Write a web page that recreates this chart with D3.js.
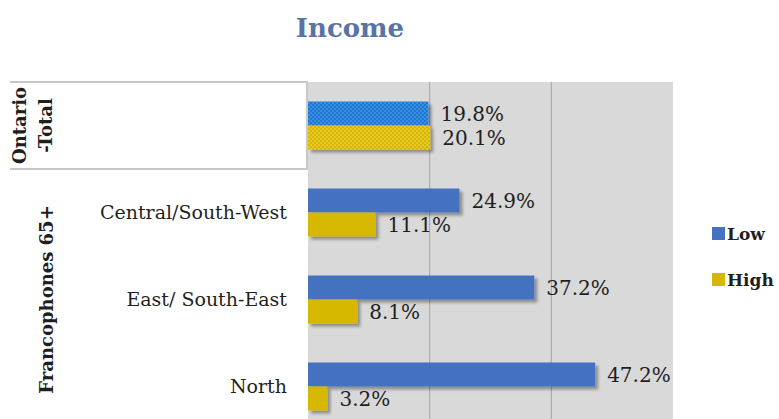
<!DOCTYPE html>
<html>
<head>
<meta charset="utf-8">
<script src="https://cdn.jsdelivr.net/npm/d3@7"></script>
<style>
  html, body { margin: 0; padding: 0; background: #fff; overflow: hidden; }
  svg { display: block; font-family: "DejaVu Serif", "Liberation Serif", serif; }
</style>
</head>
<body>
<div id="chart"></div>
<script>
// chart values
const categories = ["Ontario -Total", "Central/South-West", "East/ South-East", "North"];
const rowLabels = ["", "Central/South-West", "East/ South-East", "North"];
const series = ["Low", "High"];
const lowValues = [19.8, 24.9, 37.2, 47.2];
const highValues = [20.1, 11.1, 8.1, 3.2];
const xTicks = [20, 40];
const groupNames = [["Ontario", "-Total"], ["Francophones 65+"]];
const groupRows = [["Ontario -Total"], ["Central/South-West", "East/ South-East", "North"]];

const width = 779, height = 419;
const plot = { left: 308, right: 673, top: 82, bottom: 430 };

const svg = d3.select("#chart").append("svg")
  .attr("width", width)
  .attr("height", height);

const defs = svg.append("defs");

const shadow = defs.append("filter").attr("id", "shadow")
  .attr("x", "-10%").attr("y", "-30%").attr("width", "130%").attr("height", "180%");
shadow.append("feDropShadow")
  .attr("dx", 3).attr("dy", 3).attr("stdDeviation", 1.8)
  .attr("flood-color", "#000").attr("flood-opacity", 0.35);

function dotPattern(id, base, dot) {
  const p = defs.append("pattern").attr("id", id)
    .attr("width", 4).attr("height", 4).attr("patternUnits", "userSpaceOnUse");
  p.append("rect").attr("width", 4).attr("height", 4).attr("fill", base);
  p.append("circle").attr("cx", 1).attr("cy", 1).attr("r", 0.9).attr("fill", dot);
  p.append("circle").attr("cx", 3).attr("cy", 3).attr("r", 0.9).attr("fill", dot);
}
dotPattern("dotLow", "#1b78d2", "#4d9be2");
dotPattern("dotHigh", "#d9b700", "#ecd341");

const colors = { Low: "#4572c0", High: "#d6b800" };
const patterned = { Low: "url(#dotLow)", High: "url(#dotHigh)" };
const ink = "#1f1f1f";

const x = d3.scaleLinear().domain([0, 60]).range([plot.left, plot.right]);
const y = d3.scaleBand().domain(categories).range([plot.top, plot.bottom]).padding(0);
const ySub = d3.scaleBand().domain(series).range([0, y.bandwidth()])
  .paddingInner(0).paddingOuter(0.8125);

// title
svg.append("text")
  .attr("x", 350).attr("y", 37)
  .attr("text-anchor", "middle")
  .attr("font-size", 26).attr("font-weight", "bold")
  .attr("fill", "#5873a6")
  .text("Income");

// plot background + gridlines
svg.append("rect")
  .attr("x", plot.left).attr("y", plot.top)
  .attr("width", plot.right - plot.left).attr("height", plot.bottom - plot.top)
  .attr("fill", "#d9d9d9");

svg.append("g")
  .selectAll("line")
  .data(xTicks)
  .join("line")
  .attr("x1", d => x(d)).attr("x2", d => x(d))
  .attr("y1", plot.top).attr("y2", plot.bottom)
  .attr("stroke", "#a3a3a3").attr("stroke-width", 1);

// left table borders
const border = svg.append("g").attr("stroke", "#c8c8c8").attr("stroke-width", 2);
border.append("line").attr("x1", 10).attr("x2", plot.left).attr("y1", y(categories[0])).attr("y2", y(categories[0]));
border.append("line").attr("x1", 10).attr("x2", plot.left).attr("y1", y(categories[1])).attr("y2", y(categories[1]));
border.append("line").attr("x1", plot.left - 1).attr("x2", plot.left - 1).attr("y1", y(categories[0])).attr("y2", y(categories[1]));

// bars
const rows = categories.map((c, i) => ({ cat: c, values: [
  { key: "Low", value: lowValues[i] },
  { key: "High", value: highValues[i] }
]}));

const rowG = svg.append("g")
  .selectAll("g")
  .data(rows)
  .join("g")
  .attr("transform", d => `translate(0,${y(d.cat)})`);

rowG.selectAll("rect")
  .data((d, i) => d.values.map(v => ({ ...v, row: i })))
  .join("rect")
  .attr("x", x(0))
  .attr("y", d => ySub(d.key))
  .attr("width", d => x(d.value) - x(0))
  .attr("height", ySub.bandwidth())
  .attr("fill", d => d.row === 0 ? patterned[d.key] : colors[d.key])
  .attr("filter", "url(#shadow)");

rowG.selectAll("text")
  .data(d => d.values)
  .join("text")
  .attr("x", d => x(d.value) + 12)
  .attr("y", d => ySub(d.key) + ySub.bandwidth() / 2)
  .attr("dy", "0.36em")
  .attr("font-size", 20)
  .attr("fill", ink)
  .text(d => d.value.toFixed(1) + "%");

// row labels
svg.append("g")
  .selectAll("text")
  .data(categories)
  .join("text")
  .attr("x", 287)
  .attr("y", d => y(d) + y.bandwidth() / 2)
  .attr("dy", "0.36em")
  .attr("text-anchor", "end")
  .attr("font-size", 19)
  .attr("fill", ink)
  .text((d, i) => rowLabels[i]);

// group labels (rotated)
const groupX = [[20, 46], [47]];
groupNames.forEach((lines, gi) => {
  const first = groupRows[gi][0], last = groupRows[gi][groupRows[gi].length - 1];
  const cy = (y(first) + y(last) + y.bandwidth()) / 2;
  lines.forEach((line, li) => {
    svg.append("text")
      .attr("transform", `translate(${groupX[gi][li]},${cy}) rotate(-90)`)
      .attr("text-anchor", "middle")
      .attr("dy", "0.36em")
      .attr("font-size", 18).attr("font-weight", "bold")
      .attr("fill", ink)
      .text(line);
  });
});

// legend
const legend = svg.append("g")
  .selectAll("g")
  .data(series)
  .join("g")
  .attr("transform", (d, i) => `translate(712,${227 + i * 46})`);

legend.append("rect")
  .attr("width", 13).attr("height", 13)
  .attr("fill", d => colors[d]);

legend.append("text")
  .attr("x", 15).attr("y", 6.5).attr("dy", "0.36em")
  .attr("font-size", 17).attr("font-weight", "bold")
  .attr("fill", ink)
  .text(d => d);
</script>
</body>
</html>
